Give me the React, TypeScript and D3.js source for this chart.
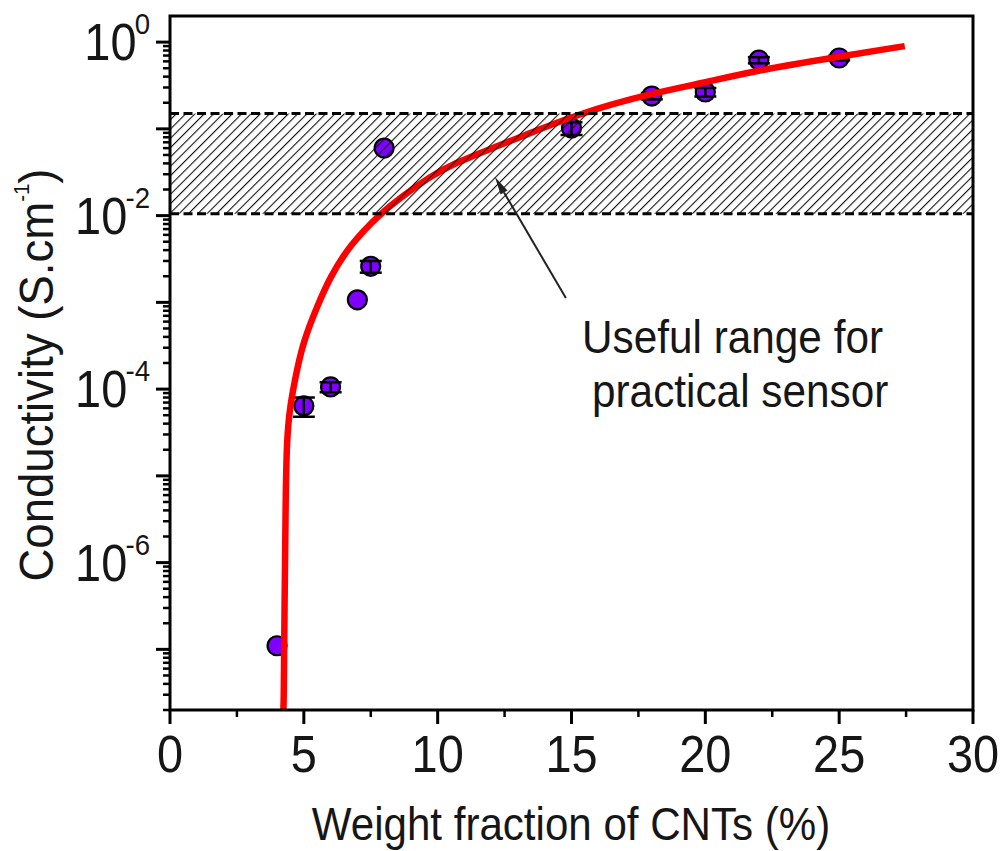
import React from 'react';
import * as d3 from 'd3';

// measured points (wt% CNT, S/cm) and their error bars
const fraction = [4, 5, 6, 7, 7.5, 8, 15, 18, 20, 22, 25];
const conductivity = [1.1e-7, 6.4e-5, 1.06e-4, 1.07e-3, 2.6e-3, 0.06, 0.102, 0.239, 0.266, 0.62, 0.656];
const conductivityErr = [0, 1.6e-5, 1.4e-5, 0, 4e-4, 0, 0.017, 0.02, 0.03, 0.05, 0.04];

// fitted curve
const fitX = [4.22, 4.25, 4.28, 4.32, 4.36, 4.48, 4.67, 4.97, 5.49, 5.98, 6.72, 7.85, 8.59, 9.71, 10.46, 12.33, 13.08, 15.32, 18.04, 19.91, 21.78, 24.92, 27.45];
const fitY = [1.9e-8, 1.9e-8, 3.7e-7, 5.2e-6, 2.6e-5, 6.2e-5, 1.3e-4, 3.5e-4, 8.9e-4, 1.96e-3, 4.6e-3, 0.0105, 0.016, 0.028, 0.0383, 0.065, 0.0804, 0.152, 0.259, 0.337, 0.464, 0.673, 0.9];

// useful range band
const bandLow = 0.0105;
const bandHigh = 0.15;

// tick labels
const xMajorTicks = [0, 5, 10, 15, 20, 25, 30];
const xMinorTicks = [2.5, 7.5, 12.5, 17.5, 22.5, 27.5];
const yLabelExponents = [0, -2, -4, -6];

// annotation arrow (data coords): tail -> tip
const arrowTail = [14.79, 1.12e-3];
const arrowTip = [12.14, 0.0279];

const FONT = '"Liberation Sans", Arial, Helvetica, sans-serif';
const INK = '#161616';
const SX = 0.92;

export default function App() {
  const width = 1001;
  const height = 851;
  const left = 170, right = 973, top = 16, bottom = 710;

  const xScale = d3.scaleLinear().domain([0, 30]).range([left, right]);
  const yScale = d3.scaleLog().domain([2e-8, 2]).range([bottom, top]);

  const yAll = yScale.ticks().filter(v => v <= 1.0001);
  const isDecade = (v: number) => Math.abs(Math.log10(v) - Math.round(Math.log10(v))) < 1e-6;

  const line = d3.line<number>()
    .x((_, i) => xScale(fitX[i]))
    .y((_, i) => yScale(fitY[i]))
    .curve(d3.curveBasis);

  const tx = xScale(arrowTip[0]), ty = yScale(arrowTip[1]);
  const fx = xScale(arrowTail[0]), fy = yScale(arrowTail[1]);
  const ang = Math.atan2(ty - fy, tx - fx);
  const hl = 18, hw = 4;
  const bx = tx - hl * Math.cos(ang), by = ty - hl * Math.sin(ang);
  const head = `M${tx},${ty}L${bx + hw * Math.sin(ang)},${by - hw * Math.cos(ang)}L${bx - hw * Math.sin(ang)},${by + hw * Math.cos(ang)}Z`;

  return (
    <svg width={width} height={height} style={{ position: 'absolute', left: 0, top: 0, background: '#fff' }}>
      <defs>
        <clipPath id="plot">
          <rect x={left} y={top} width={right - left} height={bottom - top} />
        </clipPath>
        <pattern id="hatch" patternUnits="userSpaceOnUse" width={6.6} height={6.6} patternTransform="rotate(45)">
          <line x1={0} y1={0} x2={0} y2={6.6} stroke="#111" strokeWidth={2.2} />
        </pattern>
      </defs>

      {/* data points */}
      <g>
        {fraction.map((f, i) => (
          <circle key={i} cx={xScale(f)} cy={yScale(conductivity[i])} r={9.5}
            fill="#8000ff" stroke="#000" strokeWidth={2.2} />
        ))}
        {fraction.map((f, i) => {
          if (!conductivityErr[i]) return null;
          const cx = xScale(f);
          const y1 = yScale(conductivity[i] + conductivityErr[i]);
          const y2 = yScale(conductivity[i] - conductivityErr[i]);
          return (
            <g key={'e' + i} stroke="#000" strokeWidth={2.5}>
              <line x1={cx} x2={cx} y1={y1} y2={y2} />
              <line x1={cx - 11} x2={cx + 11} y1={y1} y2={y1} />
              <line x1={cx - 11} x2={cx + 11} y1={y2} y2={y2} />
            </g>
          );
        })}
      </g>

      {/* fit */}
      <path d={line(fitX) || ''} fill="none" stroke="#ff0000" strokeWidth={6.5} clipPath="url(#plot)" />

      {/* hatched band */}
      <rect x={left} y={yScale(bandHigh)} width={right - left} height={yScale(bandLow) - yScale(bandHigh)} fill="url(#hatch)" />
      <line x1={left} x2={right} y1={yScale(bandHigh)} y2={yScale(bandHigh)} stroke="#000" strokeWidth={3} strokeDasharray="9,4.5" />
      <line x1={left} x2={right} y1={yScale(bandLow)} y2={yScale(bandLow)} stroke="#000" strokeWidth={3} strokeDasharray="9,4.5" />

      {/* frame */}
      <rect x={left} y={top} width={right - left} height={bottom - top} fill="none" stroke="#000" strokeWidth={3} />

      {/* x ticks */}
      {xMajorTicks.map(t => (
        <line key={'xm' + t} x1={xScale(t)} x2={xScale(t)} y1={bottom} y2={bottom + 14} stroke="#000" strokeWidth={3} />
      ))}
      {xMinorTicks.map(t => (
        <line key={'xn' + t} x1={xScale(t)} x2={xScale(t)} y1={bottom} y2={bottom + 7} stroke="#000" strokeWidth={2.5} />
      ))}
      {xMajorTicks.map(t => (
        <text key={'xl' + t} transform={`translate(${xScale(t)},772) scale(${SX},1)`} textAnchor="middle"
          fontFamily={FONT} fontSize={51} fill={INK}>{t}</text>
      ))}

      {/* y ticks */}
      {yAll.map((v, i) => {
        const major = isDecade(v);
        return (
          <line key={'y' + i} x1={left - (major ? 14 : 7)} x2={left} y1={yScale(v)} y2={yScale(v)}
            stroke="#000" strokeWidth={major ? 3 : 2.5} />
        );
      })}
      {yLabelExponents.map(e => (
        <text key={'yl' + e} transform={`translate(150,${yScale(Math.pow(10, e)) + 18}) scale(${SX},1)`} textAnchor="end"
          fontFamily={FONT} fontSize={51} fill={INK}>
          10<tspan dx={-2} dy={-26} fontSize={30}>{e === 0 ? '0' : '-' + Math.abs(e)}</tspan>
        </text>
      ))}

      {/* axis titles */}
      <text transform={`translate(571,840) scale(0.915,1)`} textAnchor="middle" fontFamily={FONT} fontSize={46} fill={INK}>
        Weight fraction of CNTs (%)
      </text>
      <text transform={`translate(53,375) rotate(-90) scale(0.93,1)`} textAnchor="middle" fontFamily={FONT} fontSize={49} fill={INK}>
        Conductivity (S.cm<tspan dy={-24} fontSize={22}>-1</tspan><tspan dy={24}>)</tspan>
      </text>

      {/* annotation */}
      <line x1={fx} y1={fy} x2={bx} y2={by} stroke="#222" strokeWidth={2} />
      <path d={head} fill="#222" />
      <text transform={`translate(582,353) scale(${SX},1)`} fontFamily={FONT} fontSize={46} fill={INK}>Useful range for</text>
      <text transform={`translate(592,407) scale(${SX},1)`} fontFamily={FONT} fontSize={46} fill={INK}>practical sensor</text>
    </svg>
  );
}
